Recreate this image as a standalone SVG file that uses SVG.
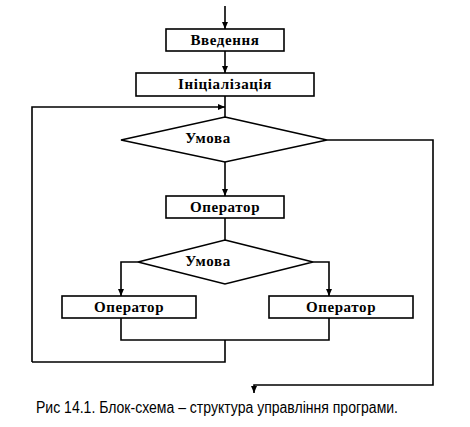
<svg xmlns="http://www.w3.org/2000/svg" width="470" height="427" viewBox="0 0 470 427">
<defs>
<marker id="ah" markerWidth="8" markerHeight="8" refX="7" refY="4" orient="auto" markerUnits="userSpaceOnUse">
<path d="M0,1 L7,4 L0,7 Z" fill="#000"/>
</marker>
<style>
.s{fill:#fff;stroke:#000;stroke-width:1.6}
.c{fill:none;stroke:#000;stroke-width:1.6}
.t{font-family:"Liberation Serif","Times New Roman",serif;font-weight:bold;font-size:15px;letter-spacing:0.6px;text-anchor:middle;fill:#000}
.cap{font-family:"Liberation Sans",Arial,sans-serif;font-size:16px;fill:#000}
</style>
</defs>
<rect width="470" height="427" fill="#fff"/>
<g id="connectors">
<path class="c" d="M225,6 V29" marker-end="url(#ah)"/>
<path class="c" d="M225,51 V73" marker-end="url(#ah)"/>
<path class="c" d="M225,96 V117"/>
<path class="c" d="M32,362 V107 H225" marker-end="url(#ah)"/>
<path class="c" d="M225,162 V196" marker-end="url(#ah)"/>
<path class="c" d="M225,218 V240"/>
<path class="c" d="M138,262 H121 V296" marker-end="url(#ah)"/>
<path class="c" d="M313,262 H329 V296" marker-end="url(#ah)"/>
<path class="c" d="M121,318 V340 H329 V318"/>
<path class="c" d="M225,340 V362 H32"/>
<path class="c" d="M327,140 H433 V385 H254 V393" marker-end="url(#ah)"/>
</g>
<g id="n1"><rect class="s" x="166" y="29" width="118" height="22"/><text class="t" x="225" y="45">Введення</text></g>
<g id="n2"><rect class="s" x="136" y="73" width="178" height="23"/><text class="t" x="225" y="89">Ініціалізація</text></g>
<g id="n3"><polygon class="s" points="225,117 327,140 225,162 121,140"/><text class="t" x="208" y="143">Умова</text></g>
<g id="n4"><rect class="s" x="166" y="196" width="118" height="22"/><text class="t" x="225" y="212">Оператор</text></g>
<g id="n5"><polygon class="s" points="225,240 313,262 225,284 138,262"/><text class="t" x="208" y="266">Умова</text></g>
<g id="n6"><rect class="s" x="62" y="296" width="134" height="22"/><text class="t" x="129" y="312">Оператор</text></g>
<g id="n7"><rect class="s" x="269" y="296" width="144" height="22"/><text class="t" x="341" y="312">Оператор</text></g>
<text class="cap" x="36" y="413" textLength="362" lengthAdjust="spacingAndGlyphs">Рис 14.1. Блок-схема – структура управління програми.</text>
</svg>
